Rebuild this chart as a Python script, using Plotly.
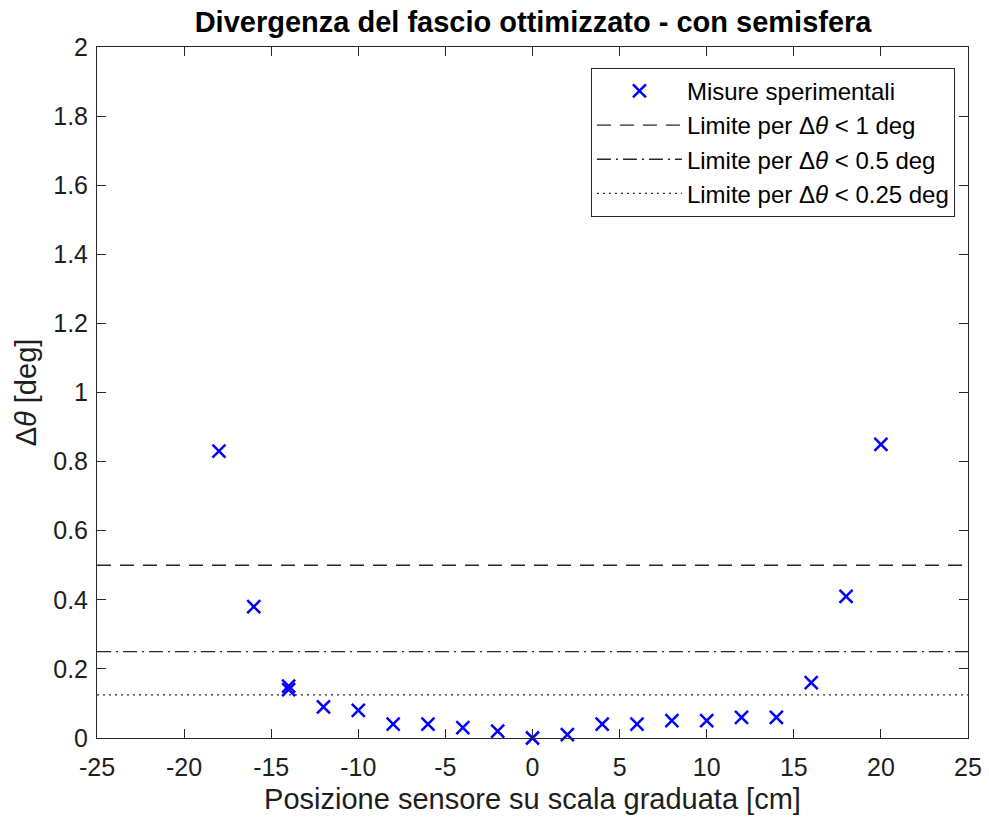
import plotly.graph_objects as go

pos_cm = [-18, -16, -14, -14, -12, -10, -8, -6, -4, -2, 0, 2, 4, 6, 8, 10, 12, 14, 16, 18, 20]
delta_theta = [0.83, 0.38, 0.15, 0.14, 0.09, 0.08, 0.04, 0.04, 0.03, 0.02, 0.0, 0.01,
               0.04, 0.04, 0.05, 0.05, 0.06, 0.06, 0.16, 0.41, 0.85]
limit_values = [0.5, 0.25, 0.125]
limit_names = ["Limite per Δ<i>θ</i> < 1 deg", "Limite per Δ<i>θ</i> < 0.5 deg",
               "Limite per Δ<i>θ</i> < 0.25 deg"]
limit_dashes = ["14px,9px", "14px,5px,2px,5px", "2px,4px"]
x_range = [-25, 25]
y_range = [0, 2]
x_ticks = [-25, -20, -15, -10, -5, 0, 5, 10, 15, 20, 25]
x_ticklabels = ["-25", "-20", "-15", "-10", "-5", "0", "5", "10", "15", "20", "25"]
y_ticks = [0, 0.2, 0.4, 0.6, 0.8, 1, 1.2, 1.4, 1.6, 1.8, 2]
y_ticklabels = ["0", "0.2", "0.4", "0.6", "0.8", "1", "1.2", "1.4", "1.6", "1.8", "2"]

FONT = "Liberation Sans, Arial, sans-serif"
AXC = "rgb(40,40,40)"

fig = go.Figure()
fig.add_trace(go.Scatter(
    x=pos_cm, y=delta_theta, mode="markers", name="Misure sperimentali",
    cliponaxis=False,
    marker=dict(symbol="x-thin", size=13, color="rgb(0,0,255)",
                line=dict(width=2.5, color="rgb(0,0,255)")),
))
for val, name, dash in zip(limit_values, limit_names, limit_dashes):
    fig.add_trace(go.Scatter(
        x=x_range, y=[val, val], mode="lines", name=name,
        line=dict(color="rgb(40,40,40)", width=1.3, dash=dash),
    ))

axis_common = dict(
    showgrid=False, zeroline=False, showline=True, linecolor=AXC,
    linewidth=1, mirror="ticks", ticks="inside", ticklen=9, tickcolor=AXC,
    ticklabeloverflow="allow", automargin=False,
    tickfont=dict(family=FONT, size=25, color="rgb(30,30,30)"),
)

fig.update_layout(
    width=989, height=825,
    margin=dict(l=97, r=21, t=47, b=87, autoexpand=False),
    paper_bgcolor="white", plot_bgcolor="white",
    title=dict(text="<b>Divergenza del fascio ottimizzato - con semisfera</b>",
               x=0.539, xanchor="center", y=0.973, yanchor="middle",
               font=dict(family=FONT, size=29, color="black")),
    xaxis=dict(range=x_range, tickvals=x_ticks, ticktext=x_ticklabels,
               ticklabelstandoff=7,
               title=dict(text="Posizione sensore su scala graduata [cm]", standoff=8,
                          font=dict(family=FONT, size=29, color="rgb(30,30,30)")),
               **axis_common),
    yaxis=dict(range=y_range, tickvals=y_ticks, ticktext=y_ticklabels,
               ticklabelstandoff=3,
               title=dict(text="Δ<i>θ</i> [deg]", standoff=8,
                          font=dict(family=FONT, size=29, color="rgb(30,30,30)")),
               **axis_common),
    legend=dict(x=0.985, xanchor="right", y=0.97, yanchor="top",
                bordercolor=AXC, borderwidth=1, bgcolor="white",
                font=dict(family=FONT, size=24, color="black"),
                tracegroupgap=0, itemwidth=85),
    showlegend=True,
)

fig.write_html("out.html", config={"displayModeBar": False},
               post_script="document.body.style.margin='0';document.body.style.overflow='hidden';")
